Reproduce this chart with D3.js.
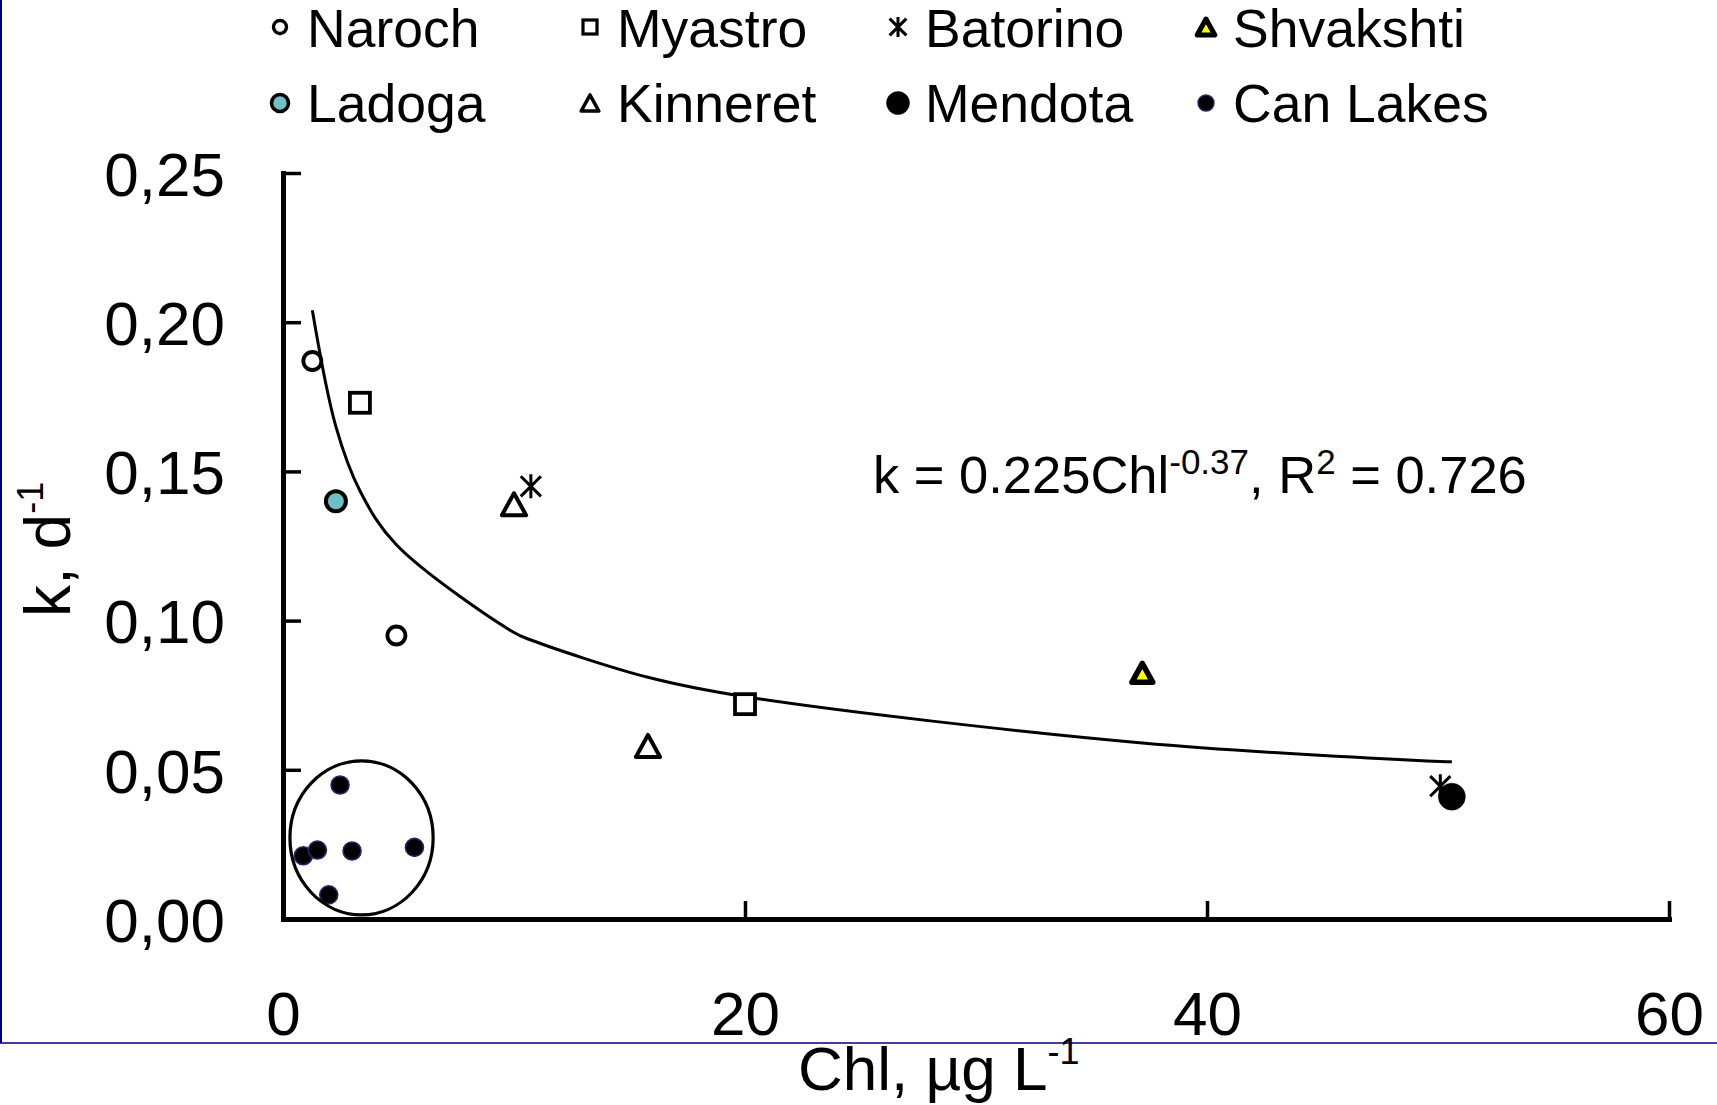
<!DOCTYPE html>
<html>
<head>
<meta charset="utf-8">
<script src="https://cdn.jsdelivr.net/npm/d3@7"></script>
<style>
  html, body { margin: 0; padding: 0; background: #fff; }
  svg { display: block; }
  text { font-family: "Liberation Sans", Arial, sans-serif; fill: #000; }
</style>
</head>
<body>
<svg id="chart" width="1717" height="1105"></svg>
<script>
// ---- Data: chlorophyll (µg/L) and decay rate k (1/day) per lake ----
const lakes = ["Naroch", "Myastro", "Batorino", "Shvakshti", "Ladoga", "Kinneret", "Mendota", "Can Lakes"];

const chlNaroch = [1.27, 4.91];
const kNaroch = [0.187, 0.095];

const chlMyastro = [3.33, 20.0];
const kMyastro = [0.173, 0.072];

const chlBatorino = [10.73, 50.1];
const kBatorino = [0.145, 0.0445];

const chlShvakshti = [37.2];
const kShvakshti = [0.0825];

const chlLadoga = [2.29];
const kLadoga = [0.140];

const chlKinneret = [10.0, 15.8];
const kKinneret = [0.139, 0.058];

const chlMendota = [50.6];
const kMendota = [0.041];

const chlCanLakes = [0.88, 1.49, 1.98, 2.47, 2.99, 5.69];
const kCanLakes = [0.0212, 0.0231, 0.0081, 0.0449, 0.0228, 0.024];

// Power-law fit k = 0.225·Chl^-0.37, drawn through its values at the lake points
const trendChl = [1.27, 2.29, 3.33, 4.91, 10.0, 10.73, 15.8, 20.0, 37.2, 50.1, 50.6];
const trendK = [0.204, 0.165, 0.1435, 0.1254, 0.096, 0.0935, 0.081, 0.0745, 0.059, 0.0528, 0.0527];

// Ring around the Canadian lakes group (data units)
const groupChl = 3.4, groupK = 0.0272, groupRChl = 3.1, groupRK = 0.0258;

const xTicks = [0, 20, 40, 60];
const yTicks = [0, 0.05, 0.10, 0.15, 0.20, 0.25];

const seriesChl = [chlNaroch, chlMyastro, chlBatorino, chlShvakshti, chlLadoga, chlKinneret, chlMendota, chlCanLakes];
const seriesK = [kNaroch, kMyastro, kBatorino, kShvakshti, kLadoga, kKinneret, kMendota, kCanLakes];

// ---- Marker styles ----
const styles = {
  "Naroch":    { shape: "circle",   r: 9,    fill: "#fff",    stroke: "#000",    sw: 3.8, lr: 6.5, lsw: 3.4 },
  "Myastro":   { shape: "square",   s: 20,   fill: "#fff",    stroke: "#000",    sw: 3.8, ls: 14,  lsw: 3.2 },
  "Batorino":  { shape: "asterisk", s: 24,   fill: "none",    stroke: "#000",    sw: 3,   ls: 20,  lsw: 3 },
  "Shvakshti": { shape: "triangle", s: 19,   fill: "#ffff00", stroke: "#000",    sw: 5.5, ls: 16,  lsw: 5 },
  "Ladoga":    { shape: "circle",   r: 10,   fill: "#6fbfc4", stroke: "#000",    sw: 4,   lr: 8.5, lsw: 3.6 },
  "Kinneret":  { shape: "triangle", s: 22,   fill: "#fff",    stroke: "#000",    sw: 4,   ls: 16,  lsw: 3.6 },
  "Mendota":   { shape: "circle",   r: 13.5, fill: "#000",    stroke: "#000",    sw: 0.5, lr: 11.5, lsw: 0.5 },
  "Can Lakes": { shape: "circle",   r: 9,    fill: "#000",    stroke: "#26266a", sw: 1.6, lr: 8,   lsw: 1.4 }
};

const svg = d3.select("#chart");
const FONT = '"Liberation Sans", Arial, sans-serif';

// Slide frame lines
svg.append("line").attr("x1", 1).attr("x2", 1).attr("y1", 0).attr("y2", 1043)
  .attr("stroke", "#000080").attr("stroke-width", 2);
svg.append("line").attr("x1", 0).attr("x2", 1717).attr("y1", 1043).attr("y2", 1043)
  .attr("stroke", "#000070").attr("stroke-width", 1.6);

// ---- Scales ----
const x = d3.scaleLinear().domain([0, 60]).range([283, 1669]);
const y = d3.scaleLinear().domain([0, 0.25]).range([919, 173]);

// ---- Axes ----
const yAxis = d3.axisLeft(y).tickValues(yTicks).tickSizeInner(-18).tickSizeOuter(0)
  .tickPadding(58).tickFormat(d => d3.format(".2f")(d).replace(".", ","));
const gy = svg.append("g").attr("transform", `translate(${x(0)},0)`).call(yAxis);

const xAxis = d3.axisBottom(x).tickValues(xTicks).tickSizeInner(-18).tickSizeOuter(0)
  .tickPadding(72).tickFormat(d3.format("d"));
const gx = svg.append("g").attr("transform", `translate(0,${y(0)})`).call(xAxis);

[gx, gy].forEach(g => {
  g.attr("font-family", FONT).attr("font-size", 62);
  g.select(".domain").attr("stroke", "#000").attr("stroke-width", 5).attr("stroke-linecap", "square");
  g.selectAll(".tick line").attr("stroke", "#000").attr("stroke-width", 3.5);
  g.selectAll(".tick text").attr("fill", "#000");
});
gy.selectAll(".tick text").attr("dy", "0.36em");

// Axis titles
const xt = svg.append("text").attr("x", 798).attr("y", 1090).attr("font-size", 62);
xt.append("tspan").text("Chl, µg L");
xt.append("tspan").attr("font-size", 36).attr("dy", -26).text("-1");

const yt = svg.append("text").attr("transform", "translate(70,617) rotate(-90)").attr("font-size", 64);
yt.append("tspan").text("k, d");
yt.append("tspan").attr("font-size", 36).attr("dy", -27).text("-1");

// ---- Trend line ----
const trendPts = trendChl.map((c, i) => [c, trendK[i]]);
svg.append("path")
  .datum(trendPts)
  .attr("d", d3.line().x(d => x(d[0])).y(d => y(d[1])).curve(d3.curveCatmullRom.alpha(0.5)))
  .attr("fill", "none").attr("stroke", "#000").attr("stroke-width", 3);

// ---- Markers ----
function drawMarker(g, st, cx, cy, legend) {
  const sw = legend ? st.lsw : st.sw;
  if (st.shape === "circle") {
    g.append("circle").attr("cx", cx).attr("cy", cy).attr("r", legend ? st.lr : st.r)
      .attr("fill", st.fill).attr("stroke", st.stroke).attr("stroke-width", sw);
  } else if (st.shape === "square") {
    const s = legend ? st.ls : st.s;
    g.append("rect").attr("x", cx - s / 2).attr("y", cy - s / 2).attr("width", s).attr("height", s)
      .attr("fill", st.fill).attr("stroke", st.stroke).attr("stroke-width", sw);
  } else if (st.shape === "triangle") {
    const s = legend ? st.ls : st.s;
    const p = d3.path();
    p.moveTo(cx, cy - s / 2);
    p.lineTo(cx + s * 0.55, cy + s / 2);
    p.lineTo(cx - s * 0.55, cy + s / 2);
    p.closePath();
    g.append("path").attr("d", p.toString()).attr("fill", st.fill)
      .attr("stroke", st.stroke).attr("stroke-width", sw).attr("stroke-linejoin", "round");
  } else if (st.shape === "asterisk") {
    const s = legend ? st.ls : st.s;
    const h = s / 2, d = s * 0.42;
    const p = d3.path();
    p.moveTo(cx, cy - h); p.lineTo(cx, cy + h);
    p.moveTo(cx - d, cy - d); p.lineTo(cx + d, cy + d);
    p.moveTo(cx + d, cy - d); p.lineTo(cx - d, cy + d);
    g.append("path").attr("d", p.toString()).attr("fill", "none")
      .attr("stroke", st.stroke).attr("stroke-width", sw);
  }
}

const gPts = svg.append("g");
// Canadian lakes first, with their enclosing ring
const canIdx = lakes.indexOf("Can Lakes");
seriesChl[canIdx].forEach((c, i) => drawMarker(gPts, styles["Can Lakes"], x(c), y(seriesK[canIdx][i]), false));
gPts.append("ellipse")
  .attr("cx", x(groupChl)).attr("cy", y(groupK))
  .attr("rx", x(groupChl + groupRChl) - x(groupChl))
  .attr("ry", y(groupK - groupRK) - y(groupK))
  .attr("fill", "none").attr("stroke", "#000").attr("stroke-width", 3.2);

lakes.forEach((name, si) => {
  if (name === "Can Lakes") return;
  seriesChl[si].forEach((c, i) => drawMarker(gPts, styles[name], x(c), y(seriesK[si][i]), false));
});

// ---- Fit equation ----
const eq = svg.append("text").attr("x", 873).attr("y", 493).attr("font-size", 52.5);
eq.append("tspan").text("k = 0.225Chl");
eq.append("tspan").attr("font-size", 35).attr("dy", -19).text("-0.37");
eq.append("tspan").attr("dy", 19).text(", R");
eq.append("tspan").attr("font-size", 35).attr("dy", -19).text("2");
eq.append("tspan").attr("dy", 19).text(" = 0.726");

// ---- Legend ----
const legCols = [280, 590, 898, 1206];
const legRowMarkerY = [27, 103];
const legRowTextY = [47, 122];
const gLeg = svg.append("g");
lakes.forEach((name, i) => {
  const col = i % 4, row = Math.floor(i / 4);
  drawMarker(gLeg, styles[name], legCols[col], legRowMarkerY[row], true);
  gLeg.append("text").attr("x", legCols[col] + 27).attr("y", legRowTextY[row])
    .attr("font-size", 53.5).text(name);
});
</script>
</body>
</html>
